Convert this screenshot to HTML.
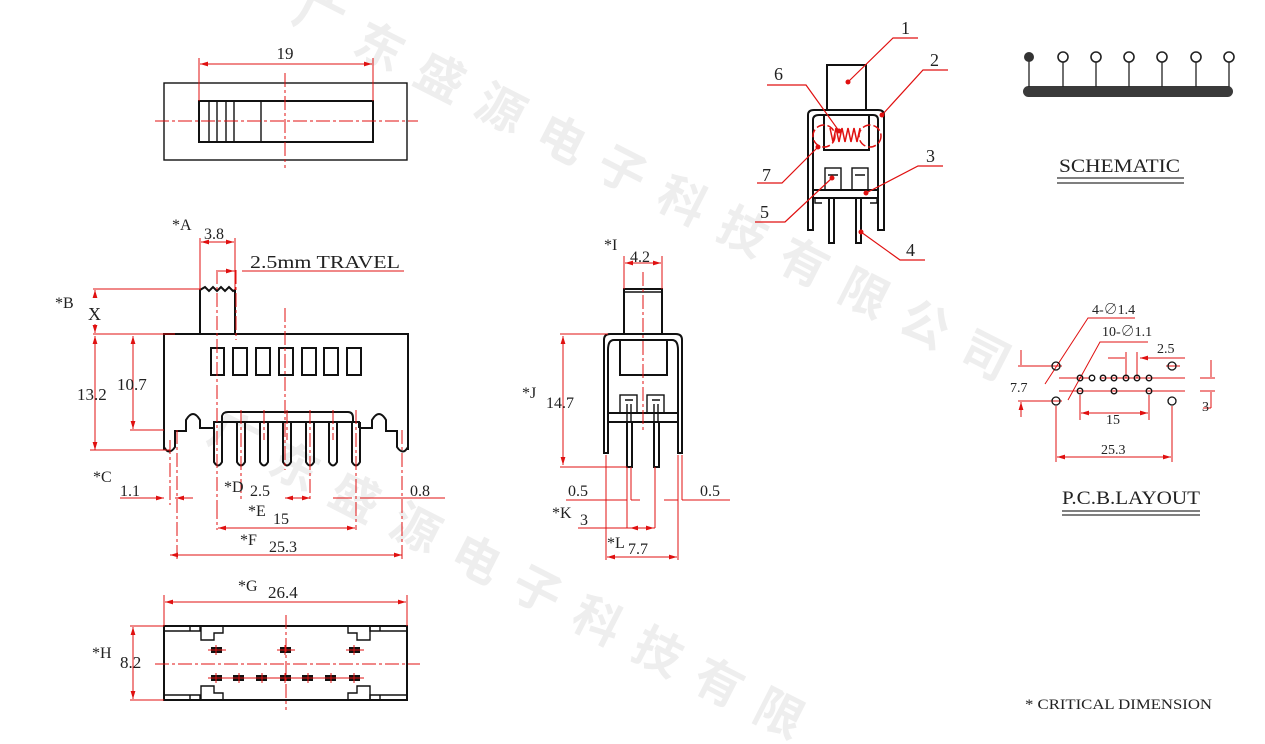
<!DOCTYPE html>
<html><head><meta charset="utf-8"><style>
html,body{margin:0;padding:0;background:#fff;width:1265px;height:744px;overflow:hidden}
svg{display:block;overflow:hidden}
text{font-family:"Liberation Serif","Noto Serif CJK SC",serif;fill:#222}
.wm{font-family:"Liberation Sans","Noto Sans CJK SC",sans-serif;fill:#eeeeee;font-weight:bold;font-size:48px}
.k{stroke:#111;stroke-width:2;fill:none}
.k1{stroke:#111;stroke-width:1.4;fill:none}
.r{stroke:#e01010;stroke-width:1;fill:none}
.c{stroke:#e01010;stroke-width:1;fill:none;stroke-dasharray:14 3 3 3}
</style></head><body>
<svg width="1265" height="744" viewBox="0 0 1265 744" xmlns="http://www.w3.org/2000/svg">
<defs>
<marker id="a" viewBox="0 0 10 6" refX="10" refY="3" markerWidth="8" markerHeight="5" orient="auto-start-reverse"><path d="M0,0L10,3L0,6z" fill="#e01010"/></marker>
<clipPath id="cl"><rect x="0" y="0" width="1265" height="744"/></clipPath>
</defs>
<g clip-path="url(#cl)">
<g transform="translate(290,20) rotate(27)"><text class="wm" letter-spacing="20">广东盛源电子科技有限公司</text></g>
<g transform="translate(205,440) rotate(27)"><text class="wm" letter-spacing="20">广东盛源电子科技有限</text></g>
</g>

<!-- TOP VIEW -->
<rect x="164" y="83" width="243" height="77" class="k1"/>
<rect x="199" y="101" width="174" height="41" class="k"/>
<path d="M209 101V142M217 101V142M226 101V142M234 101V142M261 101V142" class="k1"/>
<path d="M155 121H418" class="c"/><path d="M285 73V168" class="c"/>
<path d="M199 58V101M373 58V101" class="r"/>
<path d="M200 64H372" class="r" marker-start="url(#a)" marker-end="url(#a)"/>
<text x="285" y="59" font-size="17" text-anchor="middle">19</text>

<!-- FRONT VIEW -->
<path d="M164 450V334H408V450" class="k"/>
<path d="M200 334V290L205 287L209 291L213 287L217 291L221 287L225 291L229 287L233 291L235 290V334" class="k"/>
<rect x="211" y="348" width="13" height="27" class="k"/>
<rect x="233" y="348" width="14" height="27" class="k"/>
<rect x="256" y="348" width="14" height="27" class="k"/>
<rect x="279" y="348" width="14" height="27" class="k"/>
<rect x="302" y="348" width="14" height="27" class="k"/>
<rect x="324" y="348" width="14" height="27" class="k"/>
<rect x="347" y="348" width="14" height="27" class="k"/>
<path d="M164 430V447Q169 456 175 447V431H186V420Q193 408 200 420V428H213" class="k"/>
<path d="M408 430V447Q403 456 397 447V431H386V420Q379 408 372 420V428H359" class="k"/>
<path d="M213 422H359V428" class="k"/>
<path d="M222 422V416Q223 412 228 412H348Q353 412 353 418V422" class="k"/>
<g class="k">
<path d="M214 422V462Q218 469 222 462V422"/>
<path d="M237 422V462Q241 469 245 462V422"/>
<path d="M260 422V462Q264 469 268 462V422"/>
<path d="M283 422V462Q287 469 291 462V422"/>
<path d="M306 422V462Q310 469 314 462V422"/>
<path d="M329 422V462Q333 469 337 462V422"/>
<path d="M352 422V462Q356 469 360 462V422"/>
</g>
<path d="M285 308V470" class="c"/>
<g class="c"><path d="M217 270V505M241 410V500M264 410V440M287 410V440M310 410V500M333 410V440M356 410V530M217 505V530M177 430V560M402 430V560M236 270V340M170 440V505"/></g>
<path d="M200 238V290M235 238V290" class="r"/>
<path d="M201 242H234" class="r" marker-start="url(#a)" marker-end="url(#a)"/>
<text x="204" y="239" font-size="16">3.8</text>
<text x="172" y="230" font-size="16">*A</text>
<path d="M218 271H235M242 271H404" class="r"/>
<path d="M222 271H234" class="r" marker-end="url(#a)"/>
<text x="250" y="268" font-size="18" textLength="150" lengthAdjust="spacingAndGlyphs">2.5mm  TRAVEL</text>
<path d="M93 289H200M93 334H175" class="r"/>
<path d="M95 290V298M95 324V333" class="r" marker-start="url(#a)" marker-end="url(#a)"/>
<text x="88" y="320" font-size="18">X</text>
<text x="55" y="308" font-size="16">*B</text>
<path d="M95 336V450" class="r" marker-start="url(#a)" marker-end="url(#a)"/>
<path d="M90 450H170M130 430H164" class="r"/>
<path d="M133 336V429" class="r" marker-start="url(#a)" marker-end="url(#a)"/>
<text x="77" y="400" font-size="17">13.2</text>
<text x="117" y="390" font-size="17">10.7</text>
<path d="M120 498H164M175 498H193" class="r"/>
<path d="M150 498H164" class="r" marker-end="url(#a)"/>
<path d="M190 498H176" class="r" marker-end="url(#a)"/>
<text x="93" y="482" font-size="16">*C</text><text x="120" y="496" font-size="16">1.1</text>
<path d="M285 498H310" class="r" marker-start="url(#a)" marker-end="url(#a)"/>
<text x="224" y="492" font-size="16">*D</text><text x="250" y="496" font-size="16">2.5</text>
<path d="M333 498H352M360 498H445" class="r"/>
<text x="410" y="496" font-size="16">0.8</text>
<path d="M218 528H355" class="r" marker-start="url(#a)" marker-end="url(#a)"/>
<text x="248" y="516" font-size="16">*E</text><text x="273" y="524" font-size="16">15</text>
<path d="M170 555H402" class="r" marker-start="url(#a)" marker-end="url(#a)"/>
<text x="240" y="545" font-size="16">*F</text><text x="269" y="552" font-size="16">25.3</text>

<!-- SIDE VIEW -->
<rect x="624" y="289" width="38" height="45" class="k"/>
<path d="M624 292H662" class="k1"/>
<path d="M604 453V340Q604 334 610 334H676Q682 334 682 340V453H678V350Q678 340 672 340H614Q608 340 608 350V453Z" class="k"/>
<path d="M620 340V375H667V340" class="k"/>
<path d="M608 413H678M608 422H678" class="k"/>
<rect x="620" y="395" width="17" height="18" class="k1"/><rect x="647" y="395" width="17" height="18" class="k1"/>
<path d="M625 400H633M652 400H660M627 404V422M631 404V422M654 404V422M658 404V422" class="k1"/>
<path d="M627 422V467H632V422M654 422V467H659V422" class="k"/>
<path d="M643 272V430" class="c"/>
<path d="M624 256V289M662 256V289" class="r"/>
<path d="M625 263H661" class="r" marker-start="url(#a)" marker-end="url(#a)"/>
<text x="604" y="250" font-size="16">*I</text><text x="630" y="262" font-size="16">4.2</text>
<path d="M560 334H608M560 467H627" class="r"/>
<path d="M563 336V465" class="r" marker-start="url(#a)" marker-end="url(#a)"/>
<text x="522" y="398" font-size="16">*J</text><text x="546" y="408" font-size="16">14.7</text>
<g class="r"><path d="M606 455V560M627 467V528M631 467V500M655 467V528M678 455V560M682 455V500"/></g>
<path d="M566 500H627M631 500H640M682 500H730" class="r"/>
<path d="M678 500H664" class="r"/>
<text x="568" y="496" font-size="16">0.5</text><text x="700" y="496" font-size="16">0.5</text>
<path d="M578 528H655" class="r"/><path d="M630 528H654" class="r" marker-start="url(#a)" marker-end="url(#a)"/>
<text x="552" y="518" font-size="16">*K</text><text x="580" y="525" font-size="16">3</text>
<path d="M607 557H677" class="r" marker-start="url(#a)" marker-end="url(#a)"/>
<text x="607" y="548" font-size="16">*L</text><text x="628" y="554" font-size="16">7.7</text>

<!-- BOTTOM VIEW -->
<rect x="164" y="626" width="243" height="74" class="k"/>
<g class="k1">
<path d="M164 631H190V626M190 631H200V626M407 631H380V626M380 631H370V626"/>
<path d="M164 695H190V700M190 695H200V700M407 695H380V700M380 695H370V700"/>
<path d="M201 626V640H214V633H223V626M370 626V640H357V633H348V626"/>
<path d="M201 700V686H214V693H223V700M370 700V686H357V693H348V700"/>
</g>
<g fill="#111"><rect x="211" y="647" width="11" height="6"/><rect x="280" y="647" width="11" height="6"/><rect x="349" y="647" width="11" height="6"/>
<rect x="211" y="675" width="11" height="6"/><rect x="233" y="675" width="11" height="6"/><rect x="256" y="675" width="11" height="6"/><rect x="280" y="675" width="11" height="6"/><rect x="302" y="675" width="11" height="6"/><rect x="325" y="675" width="11" height="6"/><rect x="349" y="675" width="11" height="6"/></g>
<g class="r"><path d="M208 650H226M277 650H295M346 650H364M208 678H364M216 645V655M285 645V655M354 645V655M216 673V683M239 673V683M262 673V683M285 673V683M308 673V683M331 673V683M354 673V683"/></g>
<path d="M155 664H420" class="c"/><path d="M286 615V710" class="c"/>
<path d="M164 595V626M407 595V626" class="r"/>
<path d="M165 602H406" class="r" marker-start="url(#a)" marker-end="url(#a)"/>
<text x="238" y="591" font-size="16">*G</text><text x="268" y="598" font-size="17">26.4</text>
<path d="M130 626H164M130 700H164" class="r"/>
<path d="M133 627V699" class="r" marker-start="url(#a)" marker-end="url(#a)"/>
<text x="92" y="658" font-size="16">*H</text><text x="120" y="668" font-size="17">8.2</text>

<!-- EXPLODED VIEW -->
<rect x="827" y="65" width="39" height="45" class="k"/>
<path d="M808 230V115Q808 110 814 110H878Q884 110 884 115V230H878V120Q878 115 873 115H819Q813 115 813 120V230Z" class="k"/>
<path d="M824 115V150H869V115" class="k"/>
<path d="M813 190H878M813 198H878" class="k"/>
<rect x="825" y="168" width="16" height="22" class="k1"/><rect x="852" y="168" width="16" height="22" class="k1"/>
<path d="M828 175H838M855 175H865" class="k1"/>
<path d="M829 198V243H834V198M856 198V243H861V198" class="k"/>
<path d="M815 198V203H822M877 198V203H870" class="k1"/>
<path d="M830 128L833 142L836 128L839 142L842 128L845 142L848 128L851 142L854 128L857 142L860 128" stroke="#e01010" stroke-width="1.5" fill="none"/>
<circle cx="824" cy="136" r="11" stroke="#e01010" stroke-width="1.5" fill="none" stroke-dasharray="8 3"/>
<circle cx="870" cy="136" r="11" stroke="#e01010" stroke-width="1.5" fill="none" stroke-dasharray="8 3"/>
<g stroke="#e01010" stroke-width="1.2" fill="none">
<path d="M848 82L893 38H918"/><path d="M882 115L923 70H948"/><path d="M866 193L918 166H943"/>
<path d="M861 232L900 260H925"/><path d="M839 131L806 85H767"/><path d="M818 147L782 183H757"/><path d="M832 178L785 222H755"/>
</g>
<g fill="#e01010"><circle cx="848" cy="82" r="2.5"/><circle cx="882" cy="115" r="2.5"/><circle cx="866" cy="193" r="2.5"/><circle cx="861" cy="232" r="2.5"/><circle cx="839" cy="131" r="2.5"/><circle cx="818" cy="147" r="2.5"/><circle cx="832" cy="178" r="2.5"/></g>
<g font-size="18"><text x="901" y="34">1</text><text x="930" y="66">2</text><text x="926" y="162">3</text><text x="906" y="256">4</text><text x="760" y="218">5</text><text x="774" y="80">6</text><text x="762" y="181">7</text></g>

<!-- SCHEMATIC -->
<rect x="1023" y="86" width="210" height="11" rx="5.5" fill="#3a3a3a"/>
<path d="M1029 60V87M1063 60V87M1096 60V87M1129 60V87M1162 60V87M1196 60V87M1229 60V87" stroke="#222" stroke-width="1.3"/>
<circle cx="1029" cy="57" r="5" fill="#333"/>
<g fill="#fff" stroke="#222" stroke-width="1.6"><circle cx="1063" cy="57" r="5"/><circle cx="1096" cy="57" r="5"/><circle cx="1129" cy="57" r="5"/><circle cx="1162" cy="57" r="5"/><circle cx="1196" cy="57" r="5"/><circle cx="1229" cy="57" r="5"/></g>
<text x="1059" y="172" font-size="19" textLength="121" lengthAdjust="spacingAndGlyphs">SCHEMATIC</text>
<path d="M1057 178H1184M1057 183H1184" stroke="#333" stroke-width="1.3"/>

<!-- PCB -->
<g class="r">
<path d="M1018 366H1062M1018 401H1062M1166 366H1180M1200 378H1215M1200 391H1215M1059 378H1090M1100 378H1185M1059 391H1185"/>
<path d="M1056 406V462M1172 406V462M1080 395V420M1149 395V420M1126 352V378M1137 352V378"/>
<path d="M1045 384L1088 318H1135M1068 400L1100 342H1148"/>
</g>
<path d="M1021 350V365M1021 417V402" class="r" marker-end="url(#a)"/>
<path d="M1081 413H1148" class="r" marker-start="url(#a)" marker-end="url(#a)"/>
<path d="M1057 457H1171" class="r" marker-start="url(#a)" marker-end="url(#a)"/>
<path d="M1108 358H1125M1185 358H1140" class="r" marker-end="url(#a)"/>
<path d="M1211 360V377M1211 408V392M1211 408H1203" class="r"/>
<g fill="none" stroke="#111" stroke-width="1.3"><circle cx="1056" cy="366" r="4"/><circle cx="1172" cy="366" r="4"/><circle cx="1056" cy="401" r="4"/><circle cx="1172" cy="401" r="4"/>
<circle cx="1080" cy="378" r="2.8"/><circle cx="1092" cy="378" r="2.8"/><circle cx="1103" cy="378" r="2.8"/><circle cx="1114" cy="378" r="2.8"/><circle cx="1126" cy="378" r="2.8"/><circle cx="1137" cy="378" r="2.8"/><circle cx="1149" cy="378" r="2.8"/>
<circle cx="1080" cy="391" r="2.8"/><circle cx="1114" cy="391" r="2.8"/><circle cx="1149" cy="391" r="2.8"/></g>
<g font-size="14"><text x="1092" y="314">4-∅1.4</text><text x="1102" y="336">10-∅1.1</text><text x="1157" y="353">2.5</text>
<text x="1010" y="392">7.7</text><text x="1202" y="411">3</text><text x="1106" y="424">15</text><text x="1101" y="454">25.3</text></g>
<text x="1062" y="504" font-size="19" textLength="138" lengthAdjust="spacingAndGlyphs">P.C.B.LAYOUT</text>
<path d="M1062 511H1200M1062 515H1200" stroke="#333" stroke-width="1.2"/>

<text x="1025" y="709" font-size="15" textLength="187" lengthAdjust="spacingAndGlyphs">* CRITICAL  DIMENSION</text>
</svg>
</body></html>
